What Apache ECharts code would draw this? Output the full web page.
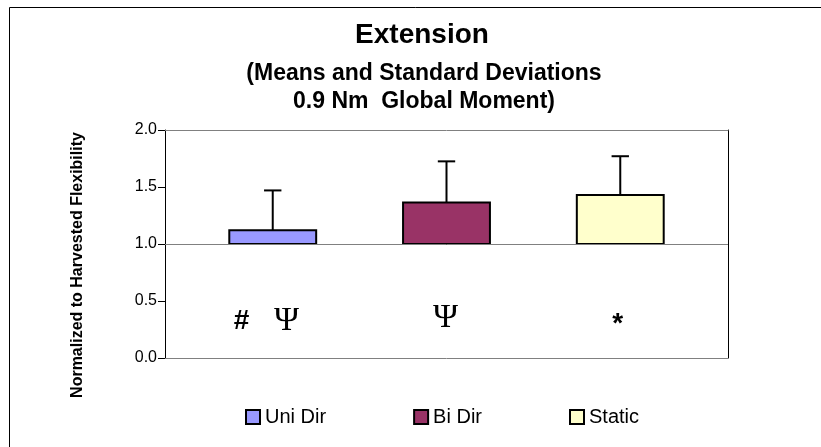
<!DOCTYPE html>
<html><head><meta charset="utf-8">
<script src="https://cdn.jsdelivr.net/npm/echarts@6/dist/echarts.min.js"></script>
<style>html,body{margin:0;padding:0;background:#fff}#c{width:821px;height:447px}</style>
</head><body><div id="c"></div>
<script>
const categories = ['Uni Dir', 'Bi Dir', 'Static'];
const means = [1.12, 1.365, 1.43];
const stdDevs = [0.35, 0.36, 0.34];
const barColors = ['#9999FF', '#993366', '#FFFFCC'];
const yTicks = [0, 0.5, 1.0, 1.5, 2.0];
const baseline = 1.0;
const annoText = ['#', '\u03A8', '\u03A8', '*'];
const annoX = [-0.18, 0.08, 0.995, 1.985];
const annoY = [0.32, 0.32, 0.35, 0.30];

const SANS = 'Arial, "Liberation Sans", sans-serif';
const SERIF = '"Times New Roman", "Liberation Serif", serif';

function renderBar(params, api) {
  const x = api.value(0), m = api.value(1), sd = api.value(2);
  const pL = api.coord([x - 0.25, baseline]);
  const pR = api.coord([x + 0.25, m]);
  const top = api.coord([x, m + sd]);
  const capL = api.coord([x - 0.05, m + sd]);
  const capR = api.coord([x + 0.05, m + sd]);
  return {
    type: 'group',
    children: [
      { type: 'line', shape: { x1: top[0], y1: pR[1], x2: top[0], y2: top[1] }, style: { stroke: '#000', lineWidth: 2 } },
      { type: 'line', shape: { x1: capL[0], y1: top[1], x2: capR[0], y2: top[1] }, style: { stroke: '#000', lineWidth: 2 } },
      { type: 'rect', shape: { x: pL[0], y: pR[1], width: pR[0] - pL[0], height: pL[1] - pR[1] },
        style: { fill: api.visual('color'), stroke: '#000', lineWidth: 2 } }
    ]
  };
}

function renderAnno(params, api) {
  const i = api.value(2);
  const p = api.coord([api.value(0), api.value(1)]);
  const t = annoText[i];
  const isSerif = t === '\u03A8';
  return {
    type: 'text', x: p[0], y: p[1],
    style: {
      text: t,
      font: isSerif ? ('34px ' + SERIF) : ('bold 28px ' + SANS),
      fill: '#000', align: 'center', verticalAlign: 'middle'
    }
  };
}

const series = categories.map((name, i) => ({
  type: 'custom', name: name, renderItem: renderBar,
  data: [[i, means[i], stdDevs[i]]],
  encode: { x: 0, y: 1 },
  itemStyle: { color: barColors[i] },
  z: 3,
  silent: true
}));
series[0].markLine = {
  silent: true, symbol: ['none', 'none'], label: { show: false },
  lineStyle: { color: '#808080', width: 1, type: 'solid' },
  data: [{ yAxis: baseline }]
};
series.push({
  type: 'custom', name: 'annotations', renderItem: renderAnno,
  data: annoX.map((x, i) => [x, annoY[i], i]),
  encode: { x: 0, y: 1 }, silent: true, z: 4
});

const chart = echarts.init(document.getElementById('c'), null, { renderer: 'canvas' });
chart.setOption({
  animation: false,
  backgroundColor: '#fff',
  grid: { left: 165, right: 93, top: 130, bottom: 89 },
  xAxis: [
    { type: 'value', min: -0.62, max: 2.62, position: 'bottom',
      axisLine: { show: true, onZero: false, lineStyle: { color: '#808080', width: 1 } },
      axisTick: { show: false }, axisLabel: { show: false }, splitLine: { show: false } },
    { type: 'value', min: -0.62, max: 2.62, position: 'top',
      axisLine: { show: true, onZero: false, lineStyle: { color: '#808080', width: 1 } },
      axisTick: { show: false }, axisLabel: { show: false }, splitLine: { show: false } }
  ],
  yAxis: [
    { type: 'value', min: yTicks[0], max: yTicks[yTicks.length - 1], interval: 0.5, position: 'left',
      axisLine: { show: true, onZero: false, lineStyle: { color: '#000', width: 1 } },
      axisTick: { show: true, inside: false, length: 7, lineStyle: { color: '#000' } },
      axisLabel: { show: true, margin: 8, color: '#000', fontSize: 16, fontFamily: SANS,
        formatter: v => v.toFixed(1) },
      splitLine: { show: false } },
    { type: 'value', min: yTicks[0], max: yTicks[yTicks.length - 1], interval: 0.5, position: 'right',
      axisLine: { show: true, onZero: false, lineStyle: { color: '#000', width: 1 } },
      axisTick: { show: false }, axisLabel: { show: false }, splitLine: { show: false } }
  ],
  legend: {
    left: 240, top: 402, itemWidth: 14, itemHeight: 14, itemGap: 87, icon: 'rect',
    selectedMode: false,
    textStyle: { fontSize: 20, color: '#000', fontFamily: SANS },
    data: categories.map((n, i) => ({ name: n, itemStyle: { color: barColors[i], borderColor: '#000', borderWidth: 2 } }))
  },
  graphic: [
    { type: 'rect', silent: true, shape: { x: 9.5, y: 7.5, width: 1000, height: 1000 },
      style: { fill: 'none', stroke: '#000', lineWidth: 1 } },
    { type: 'text', x: 422, y: 35, style: { text: 'Extension', font: 'bold 28px ' + SANS, fill: '#000', align: 'center', verticalAlign: 'middle' } },
    { type: 'text', x: 424, y: 74, style: { text: '(Means and Standard Deviations', font: 'bold 23px ' + SANS, fill: '#000', align: 'center', verticalAlign: 'middle' } },
    { type: 'text', x: 424, y: 102, style: { text: '0.9 Nm  Global Moment)', font: 'bold 23px ' + SANS, fill: '#000', align: 'center', verticalAlign: 'middle' } },
    { type: 'text', x: 78, y: 265, rotation: Math.PI / 2, style: { text: 'Normalized to Harvested Flexibility', font: 'bold 16px ' + SANS, fill: '#000', align: 'center', verticalAlign: 'middle' } }
  ],
  series: series
});
</script>
</body></html>
